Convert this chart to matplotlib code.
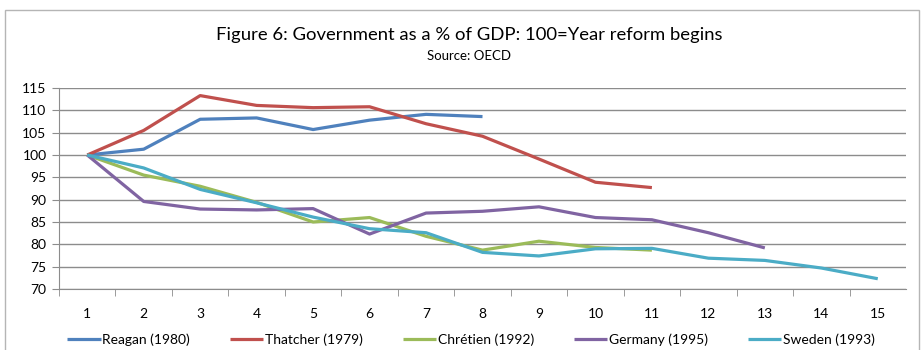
import matplotlib.pyplot as plt
from matplotlib.patches import Rectangle

# Years since reform began, general government spending indexed to 100
years = list(range(1, 16))
reagan = [100, 101.3, 108.0, 108.3, 105.7, 107.8, 109.1, 108.6]
thatcher = [100, 105.5, 113.3, 111.1, 110.6, 110.8, 107.0, 104.2, 99.1, 93.9, 92.7]
chretien = [100, 95.5, 93.0, 89.4, 85.0, 86.0, 81.8, 78.7, 80.7, 79.3, 78.7]
germany = [100, 89.6, 87.9, 87.7, 88.0, 82.3, 87.0, 87.4, 88.4, 86.0, 85.5, 82.6, 79.2]
sweden = [100, 97.1, 92.3, 89.3, 86.1, 83.5, 82.6, 78.2, 77.4, 79.0, 79.1, 76.9, 76.4, 74.7, 72.3]

series = [
    ("Reagan (1980)", reagan, "#4F81BD"),
    ("Thatcher (1979)", thatcher, "#C0504D"),
    ("Chrétien (1992)", chretien, "#9BBB59"),
    ("Germany (1995)", germany, "#8064A2"),
    ("Sweden (1993)", sweden, "#4BACC6"),
]

plt.rcParams['font.family'] = ['Lato', 'DejaVu Sans']

fig = plt.figure(figsize=(9.24, 3.5), dpi=100)
ax = fig.add_axes([59 / 924, 1 - 289 / 350, (906 - 59) / 924, (289 - 88) / 350])

for name, vals, col in series:
    ax.plot(years[:len(vals)], vals, color=col, lw=2.3, label=name,
            solid_joinstyle='round', solid_capstyle='butt')

ax.set_xlim(0.5, 15.5)
ax.set_ylim(70, 115)
ax.set_yticks(range(70, 116, 5))
ax.set_xticks(years)
ax.set_xticks([y + 0.5 for y in range(0, 15)], minor=True)
ax.grid(axis='y', color='#8c8c8c', lw=1)
ax.set_axisbelow(True)
ax.tick_params(axis='x', which='major', length=0, pad=14, labelsize=10)
ax.tick_params(axis='x', which='minor', length=5, color='#8c8c8c', direction='out')
ax.tick_params(axis='y', length=5, color='#8c8c8c', labelsize=10, pad=4)
for s in ['top', 'right']:
    ax.spines[s].set_visible(False)
for s in ['left', 'bottom']:
    ax.spines[s].set_color('#8c8c8c')

fig.text(469 / 924, 1 - 35 / 350, "Figure 6: Government as a % of GDP: 100=Year reform begins",
         ha='center', va='center', fontsize=13.3)
fig.text(469 / 924, 1 - 56 / 350, "Source: OECD", ha='center', va='center', fontsize=9.5)

fig.legend(loc='center', bbox_to_anchor=(471 / 924, 1 - 340 / 350), ncol=5, frameon=False,
           fontsize=10, handlelength=2.4, handletextpad=0.1, columnspacing=2.9)

fig.patches.append(Rectangle((5 / 924, -0.1), 914 / 924, 1.1 - 10 / 350, transform=fig.transFigure,
                             fill=False, edgecolor='#b5b5b5', lw=1))

fig.savefig("out.png", dpi=100)
